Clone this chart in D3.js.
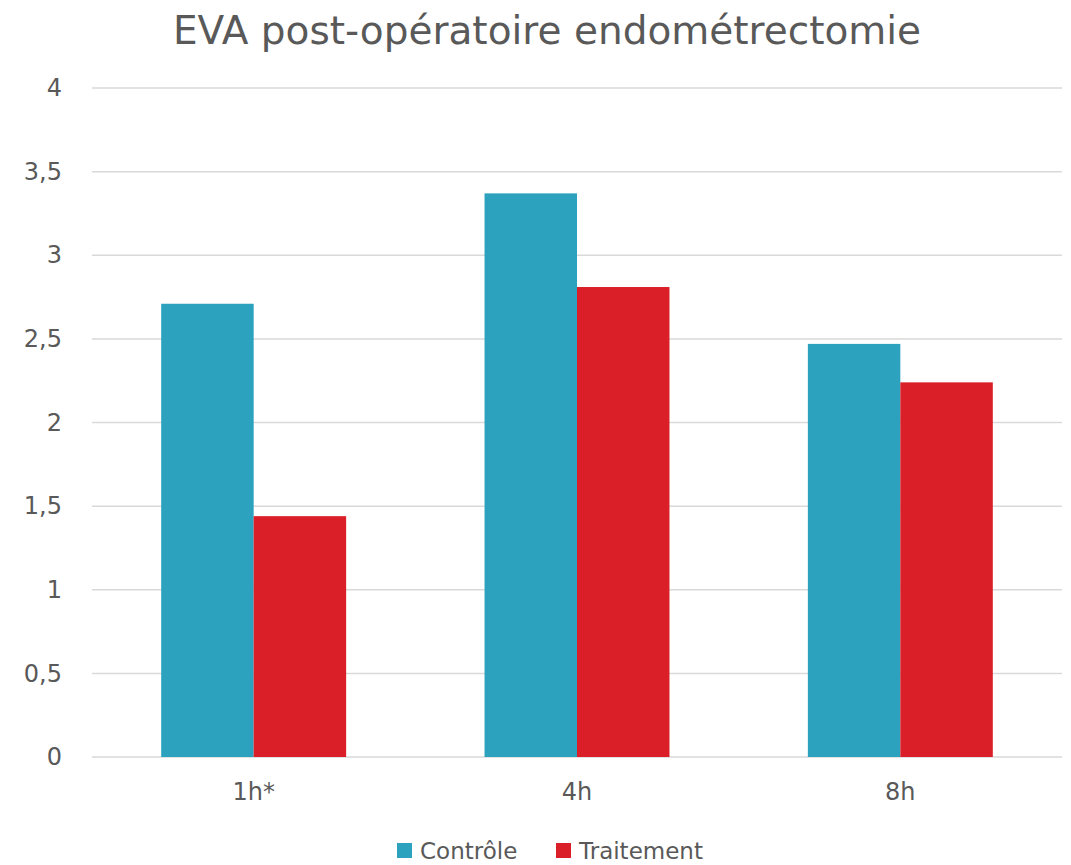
<!DOCTYPE html>
<html>
<head>
<meta charset="utf-8">
<script src="https://cdn.jsdelivr.net/npm/d3@7"></script>
<style>
  body { margin: 0; background: #fff; }
  svg text { font-family: "DejaVu Sans", sans-serif; fill: #595959; }
</style>
</head>
<body>
<div id="chart"></div>
<script>
// data
const categories = ["1h*", "4h", "8h"];
const seriesNames = ["Contrôle", "Traitement"];
const controle = [2.71, 3.37, 2.47];
const traitement = [1.44, 2.81, 2.24];
const yTicks = [0, 0.5, 1, 1.5, 2, 2.5, 3, 3.5, 4];
const colors = ["#2CA2BF", "#DA1F28"];

const svgWidth = 1071, svgHeight = 865;
const margin = { top: 88, left: 92, bottom: 108, right: 9 };
const width = svgWidth - margin.left - margin.right;
const height = svgHeight - margin.top - margin.bottom;

const svg = d3.select("#chart").append("svg")
  .attr("width", svgWidth)
  .attr("height", svgHeight);

svg.append("text")
  .attr("x", 547)
  .attr("y", 44)
  .attr("text-anchor", "middle")
  .style("font-size", "39px")
  .text("EVA post-opératoire endométrectomie");

const g = svg.append("g").attr("transform", `translate(${margin.left},${margin.top})`);

const x = d3.scaleBand().domain(categories).range([0, width]).paddingInner(0.428).paddingOuter(0.214);
const xs = d3.scaleBand().domain(seriesNames).range([0, x.bandwidth()]);
const y = d3.scaleLinear().domain([0, 4]).range([height, 0]);

const fmt = d => d3.format("")(d).replace(".", ",");

// gridlines
g.append("g").selectAll("line").data(yTicks).join("line")
  .attr("x1", 0).attr("x2", width)
  .attr("y1", d => y(d)).attr("y2", d => y(d))
  .attr("stroke", "#D9D9D9").attr("stroke-width", 1.5);

// y labels
const yAxis = g.append("g")
  .call(d3.axisLeft(y).tickValues(yTicks).tickFormat(fmt).tickSize(0).tickPadding(30));
yAxis.select(".domain").remove();
yAxis.selectAll("text").style("font-size", "24px").attr("fill", "#595959").style("font-family", "DejaVu Sans, sans-serif");

// x labels
const xAxis = g.append("g").attr("transform", `translate(0,${height})`)
  .call(d3.axisBottom(x).tickSize(0).tickPadding(26));
xAxis.select(".domain").remove();
xAxis.selectAll("text").style("font-size", "24px").attr("fill", "#595959").style("font-family", "DejaVu Sans, sans-serif");

const rows = categories.map((c, i) => ({ cat: c, values: [controle[i], traitement[i]] }));

g.append("g").selectAll("g").data(rows).join("g")
  .attr("transform", d => `translate(${x(d.cat)},0)`)
  .selectAll("rect")
  .data(d => d.values.map((v, j) => ({ name: seriesNames[j], v, j })))
  .join("rect")
  .attr("x", d => xs(d.name))
  .attr("width", xs.bandwidth())
  .attr("y", d => y(d.v))
  .attr("height", d => y(0) - y(d.v))
  .attr("fill", d => colors[d.j]);

// legend
const legend = svg.append("g").attr("transform", "translate(397,843)");
const legendX = [0, 159];
seriesNames.forEach((name, i) => {
  const item = legend.append("g").attr("transform", `translate(${legendX[i]},0)`);
  item.append("rect").attr("width", 15).attr("height", 15).attr("fill", colors[i]);
  item.append("text").attr("x", 23).attr("y", 16).style("font-size", "23px").text(name);
});
</script>
</body>
</html>
